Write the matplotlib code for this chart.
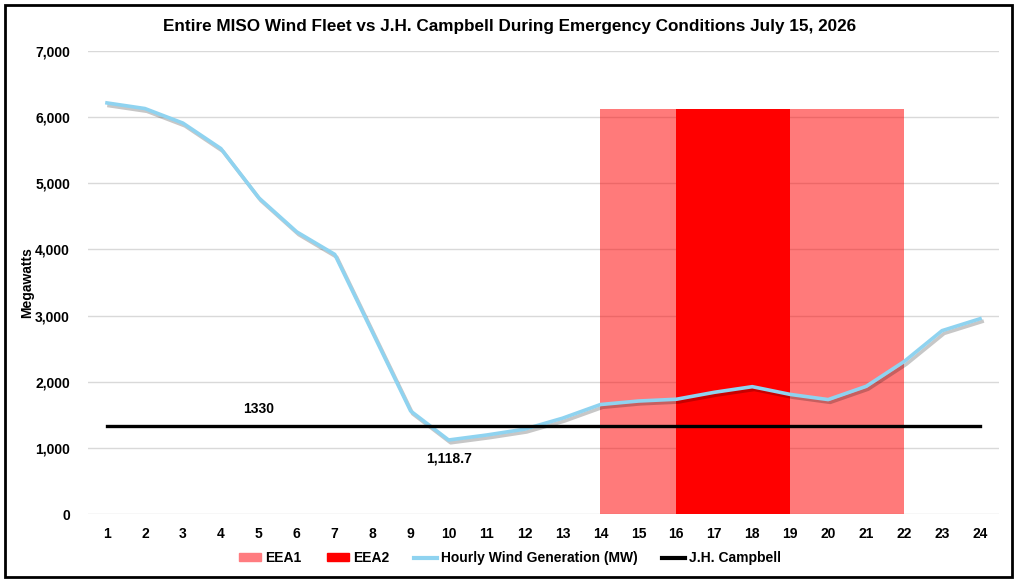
import matplotlib
matplotlib.use("Agg")
import matplotlib.pyplot as plt
import matplotlib.patheffects as pe
from matplotlib.patches import Patch, Rectangle
from matplotlib.lines import Line2D
from matplotlib.ticker import FuncFormatter

plt.rcParams["font.family"] = ["Liberation Sans", "DejaVu Sans"]
plt.rcParams["font.weight"] = "bold"

# hourly data
hours = list(range(1, 25))
wind_mw = [6215, 6130, 5910, 5525, 4780, 4265, 3925, 2740, 1557, 1118.7,
           1194, 1282, 1448, 1655, 1708, 1735, 1840, 1925, 1808, 1730,
           1930, 2305, 2772, 2952]
campbell_mw = 1330
eea1_span = (14, 22)
eea2_span = (16, 19)
eea_top = 6125

fig = plt.figure(figsize=(10.2, 5.87), dpi=100)
ax = fig.add_axes([88 / 1020, 1 - 514 / 587, 911 / 1020, 463 / 587])

# emergency periods
ax.fill_between(eea1_span, 0, eea_top, color="#ff0000", alpha=0.52, lw=0, zorder=2)
ax.fill_between(eea2_span, 0, eea_top, color="#ff0000", lw=0, zorder=3)

# wind generation with soft shadow
ax.plot(hours, wind_mw, color="#8fd3f0", lw=2.6, zorder=5,
        path_effects=[pe.SimpleLineShadow(offset=(1.5, -2), alpha=0.22, shadow_color="black"),
                      pe.Normal()])

ax.plot([hours[0], hours[-1]], [campbell_mw, campbell_mw], color="black", lw=2.4, zorder=6)

ax.text(5, campbell_mw + 150, str(campbell_mw), ha="center", va="bottom",
        fontsize=10, fontweight="bold")
i_min = wind_mw.index(min(wind_mw))
ax.text(hours[i_min], wind_mw[i_min] - 170, f"{wind_mw[i_min]:,.1f}", ha="center", va="top",
        fontsize=10, fontweight="bold")

ax.set_xlim(0.5, 24.5)
ax.set_ylim(0, 7000)
ax.set_xticks(hours)
ax.set_yticks(range(0, 7001, 1000))
ax.yaxis.set_major_formatter(FuncFormatter(lambda v, p: f"{int(v):,}"))
ax.tick_params(length=0, labelsize=10, pad=9)
ax.tick_params(axis="y", pad=13)
for lbl in ax.get_xticklabels() + ax.get_yticklabels():
    lbl.set_fontweight("bold")
ax.grid(axis="y", color="#d9d9d9", lw=1, zorder=1)
ax.set_axisbelow(True)
for s in ax.spines.values():
    s.set_visible(False)

ax.set_ylabel("Megawatts", fontsize=10, fontweight="bold")
ax.yaxis.set_label_coords(-54 / 911, 0.5)

fig.text(0.5, 1 - 27 / 587, "Entire MISO Wind Fleet vs J.H. Campbell During Emergency Conditions July 15, 2026",
         ha="center", va="center", fontsize=12.3, fontweight="bold")

handles = [Patch(color="#ff7c80", label="EEA1"),
           Patch(color="#ff0000", label="EEA2"),
           Line2D([], [], color="#8fd3f0", lw=3, label="Hourly Wind Generation (MW)"),
           Line2D([], [], color="black", lw=3, label="J.H. Campbell")]
fig.legend(handles=handles, loc="center", bbox_to_anchor=(0.5, 1 - 558 / 587), ncol=4,
           frameon=False, handlelength=1.6, handleheight=0.5,
           handletextpad=0.3, columnspacing=1.8, prop={"weight": "bold", "size": 10})

# outer chart border
fig.patches.append(Rectangle((5 / 1020, 1 - 577 / 587), 1007 / 1020, 572 / 587,
                             transform=fig.transFigure, fill=False, lw=2,
                             edgecolor="black"))

fig.savefig("out.png", dpi=100)
